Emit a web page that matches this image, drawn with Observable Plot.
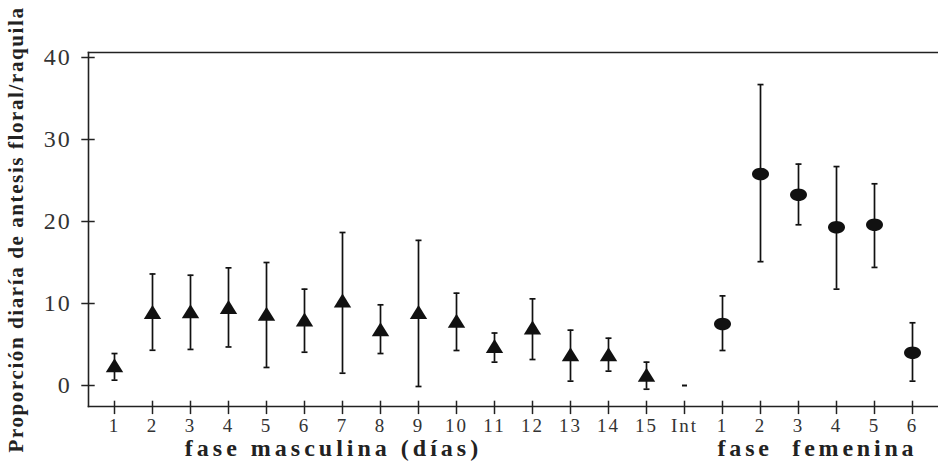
<!DOCTYPE html>
<html>
<head>
<meta charset="utf-8">
<script src="https://cdn.jsdelivr.net/npm/d3@7"></script>
<script src="https://cdn.jsdelivr.net/npm/@observablehq/plot@0.6"></script>
<style>
  html, body { margin: 0; padding: 0; background: #fff; }
</style>
</head>
<body>
<div id="chart"></div>
<script>
// Categories (days): male phase 1–15, intermediate, female phase 1–6
const categories = ["m1","m2","m3","m4","m5","m6","m7","m8","m9","m10","m11","m12","m13","m14","m15","Int","f1","f2","f3","f4","f5","f6"];
const tickLabels = ["1","2","3","4","5","6","7","8","9","10","11","12","13","14","15","Int","1","2","3","4","5","6"];
const phases = ["m","m","m","m","m","m","m","m","m","m","m","m","m","m","m","i","f","f","f","f","f","f"];
// Mean daily proportion of floral anthesis per rachilla
const means = [2.4, 8.9, 9.0, 9.5, 8.7, 8.0, 10.3, 6.8, 8.9, 7.84, 4.76, 7.0, 3.74, 3.74, 1.26, 0, 7.5, 25.8, 23.26, 19.3, 19.6, 4.0];
// Error bar upper and lower ends
const upper = [3.9, 13.6, 13.45, 14.35, 15.0, 11.75, 18.66, 9.84, 17.7, 11.26, 6.4, 10.57, 6.75, 5.77, 2.85, null, 10.93, 36.7, 27.0, 26.7, 24.6, 7.65];
const lower = [0.65, 4.3, 4.4, 4.7, 2.2, 4.06, 1.5, 3.9, -0.12, 4.27, 2.85, 3.17, 0.53, 1.75, -0.45, null, 4.27, 15.1, 19.6, 11.75, 14.4, 0.53];
const yTicks = [0, 10, 20, 30, 40];

const rows = categories.map((c, i) => ({cat: c, label: tickLabels[i], phase: phases[i], mean: means[i], hi: upper[i], lo: lower[i]}));
const bars = rows.filter(d => d.hi != null);
const labelOf = new Map(categories.map((c, i) => [c, tickLabels[i]]));

const triangle = {draw(ctx) { ctx.moveTo(0, -7.5); ctx.lineTo(8.7, 6.5); ctx.lineTo(-8.7, 6.5); ctx.closePath(); }};
const ellipse = {draw(ctx) {
  const rx = 8.5, ry = 6.3, k = 0.5523;
  ctx.moveTo(rx, 0);
  ctx.bezierCurveTo(rx, ry * k, rx * k, ry, 0, ry);
  ctx.bezierCurveTo(-rx * k, ry, -rx, ry * k, -rx, 0);
  ctx.bezierCurveTo(-rx, -ry * k, -rx * k, -ry, 0, -ry);
  ctx.bezierCurveTo(rx * k, -ry, rx, -ry * k, rx, 0);
  ctx.closePath();
}};
const cap = {draw(ctx) { ctx.moveTo(-3, 0); ctx.lineTo(3, 0); }};
const dash = {draw(ctx) { ctx.moveTo(-2.5, 0); ctx.lineTo(2.5, 0); }};

const serif = "'Liberation Serif', 'Times New Roman', 'DejaVu Serif', serif";

const chart = Plot.plot({
  width: 938,
  height: 468,
  marginLeft: 88,
  marginRight: 0,
  marginTop: 52,
  marginBottom: 62,
  style: {fontFamily: serif, background: "#fff", color: "#222", overflow: "visible"},
  x: {type: "band", domain: categories, padding: 0},
  y: {domain: [-2.56, 40.61]},
  marks: [
    Plot.frame({anchor: "top", stroke: "#222", strokeWidth: 1.6}),
    Plot.frame({anchor: "left", stroke: "#222", strokeWidth: 1.6}),
    Plot.frame({anchor: "bottom", stroke: "#222", strokeWidth: 1.6}),
    Plot.axisY({ticks: yTicks, tickSize: 13.4, dx: 6.7, tickPadding: 10, fontSize: 24, fontFamily: serif, label: null, stroke: "#222", strokeWidth: 1.5, fill: "#333"}),
    Plot.axisX({tickSize: 13.4, dy: -5.3, tickPadding: 3.5, fontSize: 19, fontFamily: serif, label: null, tickFormat: d => labelOf.get(d), stroke: "#222", strokeWidth: 1.5, fill: "#333"}),
    Plot.ruleX(bars, {x: "cat", y1: "lo", y2: "hi", stroke: "#111", strokeWidth: 1.7}),
    Plot.dot(bars, {x: "cat", y: "hi", symbol: cap, stroke: "#111", strokeWidth: 1.7, fill: "none"}),
    Plot.dot(bars, {x: "cat", y: "lo", symbol: cap, stroke: "#111", strokeWidth: 1.7, fill: "none"}),
    Plot.dot(rows.filter(d => d.phase === "m"), {x: "cat", y: "mean", symbol: triangle, fill: "#111", stroke: "none"}),
    Plot.dot(rows.filter(d => d.phase === "f"), {x: "cat", y: "mean", symbol: ellipse, fill: "#111", stroke: "none"}),
    Plot.dot(rows.filter(d => d.phase === "i"), {x: "cat", y: "mean", symbol: dash, stroke: "#111", strokeWidth: 2, fill: "none"}),
    Plot.text(["Proporción diaría de antesis floral/raquila"], {frameAnchor: "left", dx: -72, rotate: -90, fontSize: 21, fontWeight: "bold", fill: "#222", lineAnchor: "middle", textAnchor: "middle"}),
    Plot.text(["fase masculina (días)"], {frameAnchor: "bottom", dx: -180, dy: 49, fontSize: 24, fontWeight: "bold", fill: "#222", lineAnchor: "bottom", textAnchor: "middle"}),
    Plot.text(["fase  femenina"], {frameAnchor: "bottom", dx: 304, dy: 49, fontSize: 24, fontWeight: "bold", fill: "#222", lineAnchor: "bottom", textAnchor: "middle"})
  ]
});

// letter spacing, as in the reference typesetting
d3.select(chart).selectAll("text").each(function() {
  const t = this.textContent;
  const s = d3.select(this);
  if (t.startsWith("Proporción")) s.style("letter-spacing", "1.6px");
  else if (t.startsWith("fase masculina")) s.style("letter-spacing", "4px").style("white-space", "pre");
  else if (t.startsWith("fase")) s.style("letter-spacing", "3.8px").style("white-space", "pre");
});
d3.select(chart).selectAll("[aria-label='y-axis tick label'] text").style("letter-spacing", "2px");
d3.select(chart).selectAll("[aria-label='x-axis tick label'] text").style("letter-spacing", "2px");

document.getElementById("chart").appendChild(chart);
</script>
</body>
</html>
